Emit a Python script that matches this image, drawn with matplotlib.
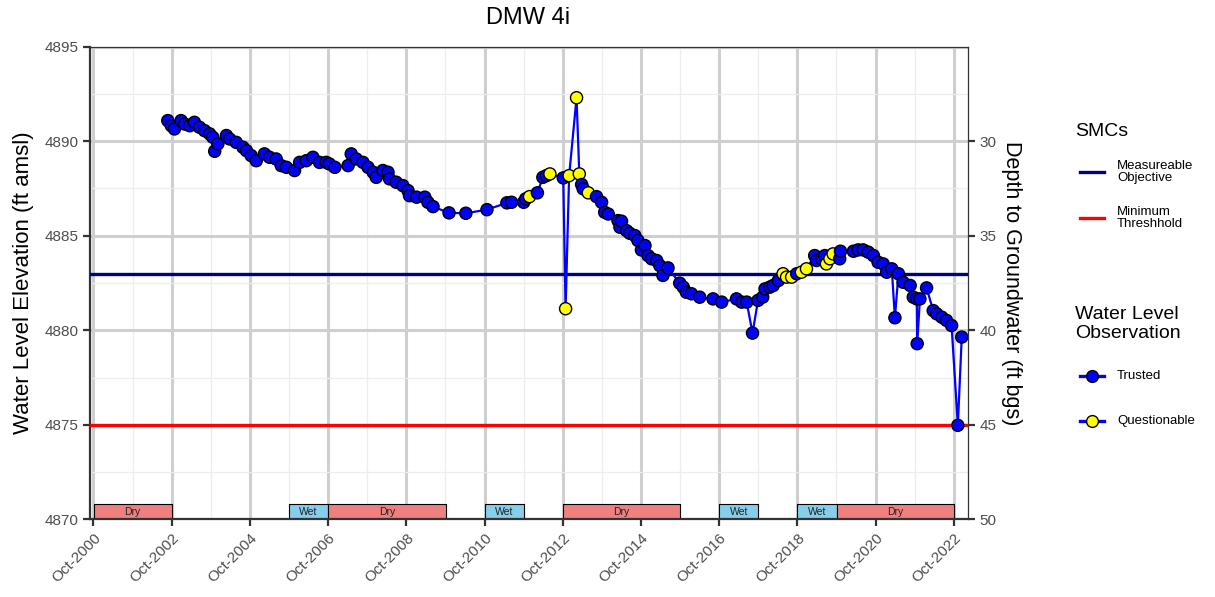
import matplotlib
matplotlib.use("Agg")
import matplotlib.pyplot as plt
import matplotlib.dates as mdates
from matplotlib.ticker import FixedLocator
from datetime import datetime, timedelta

plt.rcParams['font.family'] = ['Liberation Sans', 'DejaVu Sans']

# ---------------- data ----------------
obs_year = [
    2002.65, 2002.74, 2002.82, 2002.99, 2003.08, 2003.21, 2003.33, 2003.46, 2003.59, 2003.72,
    2003.80, 2003.85, 2003.93, 2004.15, 2004.23, 2004.40, 2004.57, 2004.66, 2004.78, 2004.91,
    2005.12, 2005.25, 2005.42, 2005.55, 2005.68, 2005.89, 2006.02, 2006.19, 2006.36, 2006.53,
    2006.70, 2006.78, 2006.92, 2007.26, 2007.34, 2007.47, 2007.64, 2007.77, 2007.90, 2007.98,
    2008.15, 2008.28, 2008.32, 2008.49, 2008.66, 2008.79, 2008.83, 2009.01, 2009.22, 2009.30,
    2009.43, 2009.84, 2010.27, 2010.81, 2011.32, 2011.44, 2011.75, 2011.80, 2011.90, 2012.10,
    2012.24, 2012.33, 2012.42, 2012.76, 2012.82, 2012.91, 2013.10, 2013.17, 2013.23, 2013.27,
    2013.40, 2013.61, 2013.74, 2013.82, 2013.91, 2014.16, 2014.21, 2014.25, 2014.38, 2014.46,
    2014.59, 2014.67, 2014.76, 2014.85, 2014.93, 2015.02, 2015.15, 2015.23, 2015.31, 2015.44,
    2015.74, 2015.83, 2015.91, 2016.04, 2016.25, 2016.59, 2016.81, 2017.19, 2017.32, 2017.45,
    2017.60, 2017.74, 2017.86, 2017.92, 2018.04, 2018.13, 2018.26, 2018.38, 2018.47, 2018.60,
    2018.73, 2018.85, 2018.98, 2019.19, 2019.24, 2019.37, 2019.45, 2019.49, 2019.58, 2019.66,
    2019.83, 2019.85, 2020.18, 2020.30, 2020.43, 2020.56, 2020.69, 2020.81, 2020.94, 2021.03,
    2021.16, 2021.24, 2021.33, 2021.45, 2021.63, 2021.71, 2021.80, 2021.81, 2021.88, 2022.05,
    2022.22, 2022.31, 2022.44, 2022.56, 2022.69, 2022.85, 2022.95,
]
obs_elev = [
    4891.09, 4890.82, 4890.65, 4891.09, 4890.91, 4890.82, 4891.00, 4890.74, 4890.56, 4890.39,
    4890.21, 4889.47, 4889.86, 4890.30, 4890.12, 4889.94, 4889.68, 4889.50, 4889.24, 4888.97,
    4889.33, 4889.15, 4889.06, 4888.71, 4888.62, 4888.45, 4888.88, 4888.97, 4889.15, 4888.88,
    4888.88, 4888.80, 4888.62, 4888.71, 4889.33, 4889.06, 4888.88, 4888.62, 4888.36, 4888.09,
    4888.45, 4888.36, 4888.01, 4887.83, 4887.65, 4887.39, 4887.12, 4887.04, 4887.04, 4886.77,
    4886.54, 4886.21, 4886.19, 4886.38, 4886.74, 4886.77, 4886.77, 4886.95, 4887.07, 4887.27,
    4888.09, 4888.18, 4888.27, 4888.06, 4881.14, 4888.18, 4892.30, 4888.27, 4887.71, 4887.48,
    4887.27, 4887.07, 4886.77, 4886.24, 4886.15, 4885.80, 4885.45, 4885.77, 4885.27, 4885.13,
    4885.01, 4884.75, 4884.25, 4884.48, 4883.95, 4883.78, 4883.69, 4883.42, 4882.90, 4883.30,
    4882.49, 4882.28, 4882.01, 4881.93, 4881.75, 4881.66, 4881.49, 4881.66, 4881.49, 4881.49,
    4879.85, 4881.58, 4881.75, 4882.19, 4882.28, 4882.37, 4882.63, 4882.99, 4882.81, 4882.81,
    4882.99, 4883.07, 4883.25, 4883.95, 4883.69, 4883.78, 4883.95, 4883.51, 4883.78, 4884.04,
    4883.78, 4884.18, 4884.18, 4884.25, 4884.25, 4884.13, 4883.95, 4883.60, 4883.51, 4883.07,
    4883.25, 4880.66, 4882.99, 4882.54, 4882.37, 4881.75, 4881.66, 4879.29, 4881.66, 4882.24,
    4881.04, 4880.87, 4880.69, 4880.52, 4880.25, 4874.97, 4879.64,
]
obs_quality = (
    ["Trusted"] * 58 + ["Questionable"] + ["Trusted"] * 3 + ["Questionable"] + ["Trusted"]
    + ["Questionable"] * 4 + ["Trusted"] * 2 + ["Questionable"] + ["Trusted"] * 36
    + ["Questionable"] * 3 + ["Trusted"] + ["Questionable"] * 2 + ["Trusted"] * 4
    + ["Questionable"] * 3 + ["Trusted"] * 27
)

period_start = [2000.75, 2005.75, 2006.75, 2010.75, 2012.75, 2016.75, 2018.75, 2019.75]
period_end   = [2002.75, 2006.75, 2009.75, 2011.75, 2015.75, 2017.75, 2019.75, 2022.75]
period_type  = ["Dry", "Wet", "Dry", "Wet", "Dry", "Wet", "Wet", "Dry"]

x_tick_years = [2000, 2002, 2004, 2006, 2008, 2010, 2012, 2014, 2016, 2018, 2020, 2022]
y_ticks = [4870, 4875, 4880, 4885, 4890, 4895]
depth_ticks = [30, 35, 40, 45, 50]

measurable_objective = 4883.0
minimum_threshold = 4875.0
ground_surface = 4920.0
title = "DMW 4i"


def to_date(y):
    yr = int(y)
    start = datetime(yr, 1, 1)
    days = (datetime(yr + 1, 1, 1) - start).days
    return start + timedelta(days=(y - yr) * days)


dates = [to_date(y) for y in obs_year]

# ---------------- figure ----------------
W, H = 1215, 597
fig = plt.figure(figsize=(W / 100, H / 100), dpi=100)
ax = fig.add_axes([90 / W, 1 - 519.3 / H, (968 - 90) / W, (519.3 - 46.7) / H])

ax.set_ylim(4870, 4895)
ax.set_xlim(to_date(2000.66), to_date(2023.11))

major_x = [mdates.date2num(datetime(y, 10, 1)) for y in x_tick_years]
minor_x = [mdates.date2num(datetime(y, 10, 1)) for y in range(2001, 2023, 2)]
ax.xaxis.set_major_locator(FixedLocator(major_x))
ax.xaxis.set_minor_locator(FixedLocator(minor_x))
ax.xaxis.set_major_formatter(mdates.DateFormatter("%b-%Y"))
ax.set_yticks(y_ticks)
ax.set_yticks([v + 2.5 for v in y_ticks[:-1]], minor=True)
ax.grid(which='major', color='#CFCFCF', linewidth=2.2, zorder=0)
ax.grid(which='minor', color='#EDEDED', linewidth=0.9, zorder=0)
ax.set_axisbelow(True)

# wet/dry periods
for s, e, lab in zip(period_start, period_end, period_type):
    d0, d1 = to_date(s), to_date(e)
    col = '#F08080' if lab == 'Dry' else '#87CEEB'
    ax.fill_between([d0, d1], 4870, 4870.8, facecolor=col, edgecolor='black',
                    linewidth=0.8, zorder=2)
    ax.text(d0 + (d1 - d0) / 2, 4870.4, lab, ha='center', va='center',
            fontsize=7.5, color='#222222', zorder=3)

# SMC lines
ax.axhline(measurable_objective, color='#000080', linewidth=2.4, zorder=3)
ax.axhline(minimum_threshold, color='#FF0000', linewidth=2.4, zorder=3)

# observations
ax.plot(dates, obs_elev, color='#0000FF', linewidth=1.6, zorder=4)
cols = ['#0000FF' if q == 'Trusted' else '#FFFF00' for q in obs_quality]
ax.scatter(dates, obs_elev, s=76, c=cols, edgecolors='black', linewidths=1.0, zorder=5)

# spines / ticks
for side in ['left', 'bottom']:
    ax.spines[side].set_linewidth(1.6)
    ax.spines[side].set_color('#333333')
for side in ['top', 'right']:
    ax.spines[side].set_linewidth(0.9)
    ax.spines[side].set_color('#333333')
ax.tick_params(which='major', length=5, width=1.6, color='#333333',
               labelsize=11, labelcolor='#4D4D4D')
ax.tick_params(which='minor', length=0)
for lab in ax.get_xticklabels():
    lab.set_rotation(45)
    lab.set_ha('right')
    lab.set_rotation_mode('anchor')

ax.set_ylabel("Water Level Elevation (ft amsl)", fontsize=16, labelpad=7)

# right axis: depth to groundwater
ax2 = ax.twinx()
ax2.set_ylim(ground_surface - 4870, ground_surface - 4895)
ax2.set_yticks(depth_ticks)
for sp in ax2.spines.values():
    sp.set_visible(False)
ax2.tick_params(length=5, width=1.6, color='#333333', labelsize=11, labelcolor='#4D4D4D')
ax2.set_ylabel("Depth to Groundwater (ft bgs)", fontsize=15.5, rotation=270, labelpad=18)

fig.text(528 / W, 1 - 18 / H, title, ha='center', va='center', fontsize=17)

# ---------------- legends (drawn in pixel coordinates) ----------------
lax = fig.add_axes([0, 0, 1, 1])
lax.set_xlim(0, W)
lax.set_ylim(H, 0)
lax.axis('off')

lax.text(1075, 132, "SMCs", fontsize=14, ha='left', va='center')
lax.plot([1080, 1104], [172, 172], color='#000080', linewidth=2.4)
lax.text(1117, 172, "Measureable\nObjective", fontsize=9.5, ha='left', va='center', linespacing=1.05)
lax.plot([1080, 1104], [218, 218], color='#FF0000', linewidth=2.4)
lax.text(1117, 218, "Minimum\nThreshhold", fontsize=9.5, ha='left', va='center', linespacing=1.05)

lax.text(1075, 324, "Water Level\nObservation", fontsize=14, ha='left', va='center', linespacing=1.1)
lax.plot([1080, 1104], [376, 376], color='#0000FF', linewidth=2.4)
lax.plot([1092], [376], marker='o', markersize=8.5, markerfacecolor='#0000FF',
         markeredgecolor='black', markeredgewidth=1.0)
lax.text(1117, 376, "Trusted", fontsize=9.5, ha='left', va='center')
lax.plot([1080, 1104], [421, 421], color='#0000FF', linewidth=2.4)
lax.plot([1092], [421], marker='o', markersize=8.5, markerfacecolor='#FFFF00',
         markeredgecolor='black', markeredgewidth=1.0)
lax.text(1117, 421, "Questionable", fontsize=9.5, ha='left', va='center')

fig.savefig("out.png", dpi=100)
